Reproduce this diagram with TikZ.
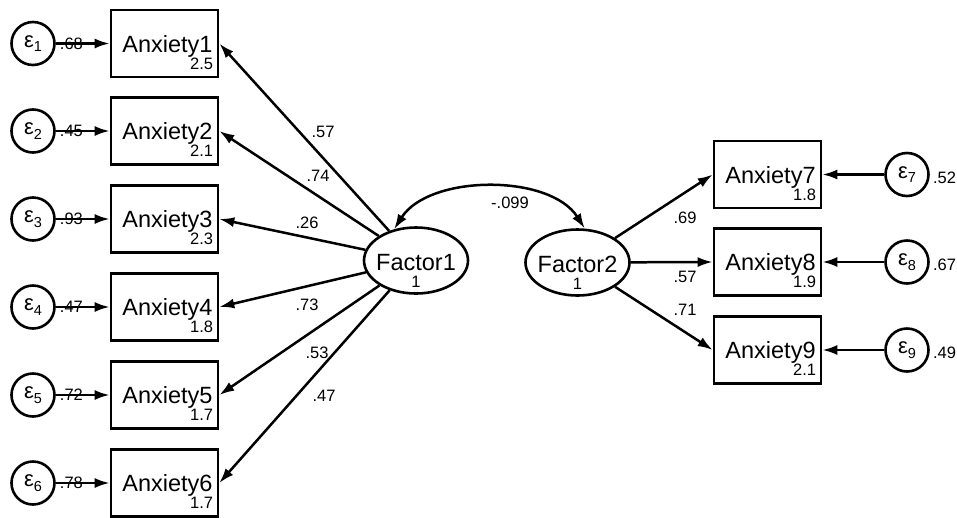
\documentclass[tikz,border=0pt]{standalone}
\usepackage{fontspec}
\setmainfont{Liberation Sans}
\usetikzlibrary{arrows.meta,calc,shapes.geometric}
\newcommand\obsnode[4]{%
  \node[obs] (#1) at (#2) {};
  \node[big, anchor=base] (#1t) at ($(#1.center)+(3,8.8)$) {#3};
  \node[sm, anchor=base east] (#1m) at ($(#1.south east)+(-6,-9)$) {#4};
}
\begin{document}
\begin{tikzpicture}[x=1pt,y=-1pt,
  every node/.style={inner sep=0pt},
  obs/.style={draw, line width=2.6pt, minimum width=107pt, minimum height=67pt},
  lat/.style={draw, ellipse, line width=2.6pt, minimum width=104pt, minimum height=66pt},
  err/.style={draw, circle, line width=2.6pt, minimum size=43pt},
  big/.style={font=\fontsize{23.5}{25}\selectfont},
  eps/.style={font=\fontsize{22}{24}\selectfont},
  sm/.style={font=\fontsize{16.5}{18}\selectfont},
  arr/.style={line width=2.5pt, -{Latex[length=15pt,width=10pt]}},
  biarr/.style={line width=2.5pt, {Latex[length=15pt,width=10pt]}-{Latex[length=15pt,width=10pt]}},
]
\useasboundingbox (0,0) rectangle (957,517);

% left observed variables
\obsnode{a1}{164.5,43.5}{Anxiety1}{2.5}
\obsnode{a2}{164.5,131}{Anxiety2}{2.1}
\obsnode{a3}{164.5,219}{Anxiety3}{2.3}
\obsnode{a4}{164.5,307}{Anxiety4}{1.8}
\obsnode{a5}{164.5,395}{Anxiety5}{1.7}
\obsnode{a6}{164.5,483}{Anxiety6}{1.7}

% right observed variables
\obsnode{a7}{767.5,174.5}{Anxiety7}{1.8}
\obsnode{a8}{767.5,262}{Anxiety8}{1.9}
\obsnode{a9}{767.5,350}{Anxiety9}{2.1}

% error terms
\foreach \i/\y in {1/43.5,2/131,3/219,4/307,5/395,6/483}{
  \node[err, eps] (e\i) at (33,\y) {ε\raisebox{-0.22em}{\fontsize{14.5}{16}\selectfont\i}};
}
\foreach \i/\y in {7/174.5,8/262,9/350}{
  \node[err, eps] (e\i) at (907,\y) {ε\raisebox{-0.22em}{\fontsize{14.5}{16}\selectfont\i}};
}

% factors
\node[lat] (f1) at (416,260.5) {};
\node[big, anchor=base] (f1t) at ($(f1.center)+(0,10)$) {Factor1};
\node[sm, anchor=base] (f1v) at ($(f1.center)+(0,27)$) {1};
\node[lat] (f2) at (577.5,262.5) {};
\node[big, anchor=base] (f2t) at ($(f2.center)+(0,10)$) {Factor2};
\node[sm, anchor=base] (f2v) at ($(f2.center)+(0,27)$) {1};

% error paths (left)
\draw[arr] (e1) -- (a1) node[sm, pos=0.29] {.68};
\draw[arr] (e2) -- (a2) node[sm, pos=0.29] {.45};
\draw[arr] (e3) -- (a3) node[sm, pos=0.29] {.93};
\draw[arr] (e4) -- (a4) node[sm, pos=0.29] {.47};
\draw[arr] (e5) -- (a5) node[sm, pos=0.29] {.72};
\draw[arr] (e6) -- (a6) node[sm, pos=0.29] {.78};

% error paths (right)
\draw[arr] (e7) -- (a7);
\draw[arr] (e8) -- (a8);
\draw[arr] (e9) -- (a9);
\node[sm, anchor=west] (v7) at ($(e7.east)+(3,3)$) {.52};
\node[sm, anchor=west] (v8) at ($(e8.east)+(3,3)$) {.67};
\node[sm, anchor=west] (v9) at ($(e9.east)+(3,3)$) {.49};

% loadings
\draw[arr] (f1) -- (a1.east);
\draw[arr] (f1) -- (a2.east);
\draw[arr] (f1) -- (a3.east);
\draw[arr] (f1) -- (a4.east);
\draw[arr] (f1) -- (a5.east);
\draw[arr] (f1) -- (a6.east);
\draw[arr] (f2) -- (a7.west);
\draw[arr] (f2) -- (a8.west);
\draw[arr] (f2) -- (a9.west);

\node[sm] (l1) at (323,132) {.57};
\node[sm] (l2) at (318,176) {.74};
\node[sm] (l3) at (307,223) {.26};
\node[sm] (l4) at (307,305) {.73};
\node[sm] (l5) at (317,353) {.53};
\node[sm] (l6) at (324,396) {.47};
\node[sm] (l7) at (685,218) {.69};
\node[sm] (l8) at (685,277) {.57};
\node[sm] (l9) at (685,310) {.71};

% covariance
\draw[biarr] (f1.125) .. controls +(35,-55) and +(-35,-55) .. (f2.78);
\node[sm] (cv) at (510,203) {-.099};
\end{tikzpicture}
\end{document}
